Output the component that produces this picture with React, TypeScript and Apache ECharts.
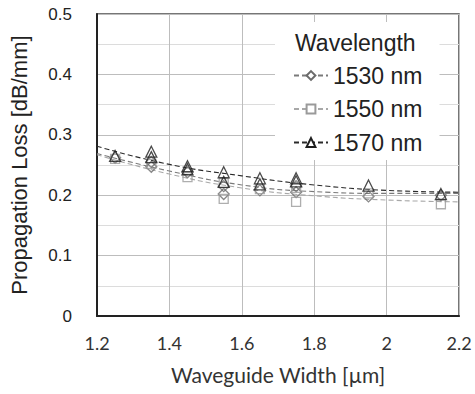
import React, { useEffect, useRef } from "react";
import * as echarts from "echarts";

// Measured points: x = waveguide width (µm), y = propagation loss (dB/mm)
const x1530 = [1.25, 1.35, 1.35, 1.45, 1.55, 1.55, 1.65, 1.75, 1.75, 1.95, 2.15];
const y1530 = [0.262, 0.247, 0.255, 0.238, 0.202, 0.215, 0.208, 0.205, 0.215, 0.198, 0.2];

const x1550 = [1.25, 1.35, 1.45, 1.55, 1.55, 1.65, 1.75, 1.75, 1.95, 2.15];
const y1550 = [0.26, 0.252, 0.23, 0.194, 0.22, 0.21, 0.189, 0.212, 0.203, 0.185];

const x1570 = [1.25, 1.35, 1.35, 1.45, 1.45, 1.55, 1.55, 1.65, 1.65, 1.75, 1.75, 1.95, 2.15];
const y1570 = [0.265, 0.272, 0.263, 0.248, 0.243, 0.238, 0.222, 0.228, 0.218, 0.228, 0.223, 0.216, 0.202];

// Trend lines
const trendX = [1.2, 1.4, 1.6, 1.8, 2.0, 2.2];
const trend1530 = [0.269, 0.24, 0.217, 0.206, 0.203, 0.203];
const trend1550 = [0.267, 0.235, 0.212, 0.199, 0.192, 0.189];
const trend1570 = [0.281, 0.251, 0.232, 0.217, 0.208, 0.205];

const names = ["1530 nm", "1550 nm", "1570 nm"];
const legendTitle = "Wavelength";

const zip = (xs: number[], ys: number[]) => xs.map((x, i) => [x, ys[i]]);

export default function App() {
  const ref = useRef<HTMLDivElement>(null);
  useEffect(() => {
    if (!ref.current) return;
    const chart = echarts.init(ref.current, undefined, { renderer: "svg" });
    const styles = [
      { sym: "diamond", mark: "#6b6b6b", line: "#7a7a7a", xs: x1530, ys: y1530, t: trend1530 },
      { sym: "rect", mark: "#9a9a9a", line: "#a8a8a8", xs: x1550, ys: y1550, t: trend1550 },
      { sym: "triangle", mark: "#1e1e1e", line: "#2a2a2a", xs: x1570, ys: y1570, t: trend1570 },
    ];
    const trendSeries = styles.map((s, i) => ({
      name: names[i],
      type: "line",
      smooth: true,
      showSymbol: false,
      symbol: s.sym,
      symbolSize: 11,
      data: zip(trendX, s.t),
      lineStyle: { color: s.line, width: 1.1, type: [5, 3] },
      itemStyle: { color: "#fff", borderColor: s.mark, borderWidth: 1 },
      z: 3,
      silent: true,
    }));
    const scatterSeries = styles.map((s, i) => ({
      name: names[i],
      type: "scatter",
      symbol: s.sym,
      symbolSize: s.sym === "rect" ? 9 : 11,
      data: zip(s.xs, s.ys),
      itemStyle: { color: "rgba(255,255,255,0)", borderColor: s.mark, borderWidth: 1.3 },
      z: 4,
    }));
    chart.setOption({
      animation: false,
      grid: {
        left: 95,
        right: 16,
        top: 14,
        bottom: 78,
        show: true,
        borderColor: "#4a4a4a",
        borderWidth: 1.5,
        backgroundColor: "#fff",
      },
      xAxis: {
        type: "value",
        min: 1.2,
        max: 2.2,
        interval: 0.2,
        name: "Waveguide Width [µm]",
        nameLocation: "middle",
        nameGap: 48,
        nameTextStyle: { fontFamily: "Lato", fontSize: 21, color: "#333" },
        axisLine: { show: true, lineStyle: { color: "#222", width: 2 } },
        axisTick: { show: false },
        axisLabel: { fontFamily: "Lato", fontSize: 18, color: "#333", margin: 18 },
        splitLine: { show: true, lineStyle: { color: "#bdbdbd", width: 1 } },
      },
      yAxis: {
        type: "value",
        min: 0,
        max: 0.5,
        interval: 0.1,
        name: "Propagation Loss [dB/mm]",
        nameLocation: "middle",
        nameGap: 67,
        nameTextStyle: { fontFamily: "Liberation Sans", fontSize: 22, color: "#222" },
        axisLine: { show: true, lineStyle: { color: "#222", width: 2 } },
        axisTick: { show: false },
        axisLabel: { fontFamily: "Liberation Sans", fontSize: 17, color: "#222", margin: 25 },
        splitLine: { show: true, lineStyle: { color: "#bdbdbd", width: 1 } },
        minorTick: { show: false, splitNumber: 2 },
        minorSplitLine: { show: true, lineStyle: { color: "#dcdcdc", width: 1 } },
      },
      legend: {
        orient: "vertical",
        left: 275,
        top: 22,
        backgroundColor: "#fff",
        padding: [42, 17, 6, 18],
        itemGap: 10.5,
        itemWidth: 34,
        itemHeight: 11,
        selectedMode: false,
        textStyle: { fontFamily: "Liberation Sans", fontSize: 23, lineHeight: 23, color: "#222" },
        data: names,
      },
      graphic: [
        {
          type: "text",
          left: 295,
          top: 31,
          z: 100,
          style: {
            text: legendTitle,
            fontFamily: "Liberation Sans",
            fontSize: 23,
            fill: "#222",
          },
        },
      ],
      series: [...trendSeries, ...scatterSeries],
    });
    return () => chart.dispose();
  }, []);
  return <div ref={ref} style={{ width: 475, height: 394, position: "absolute", left: 0, top: 0 }} />;
}
